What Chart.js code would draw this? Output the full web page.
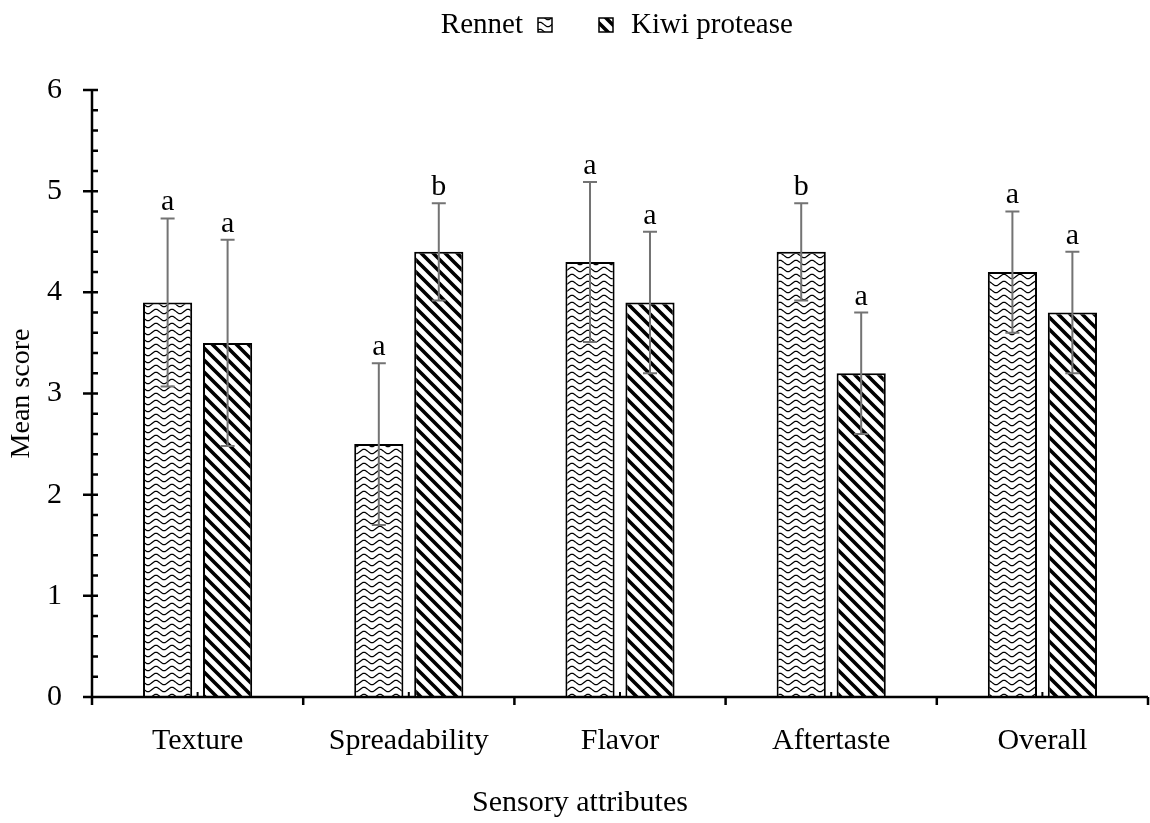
<!DOCTYPE html>
<html>
<head>
<meta charset="utf-8">
<script src="https://cdn.jsdelivr.net/npm/chart.js@4"></script>
<style>
  html, body { margin: 0; padding: 0; background: #fff; }
  #wrap { width: 1150px; height: 823px; position: relative; }
</style>
</head>
<body>
<div id="wrap"><canvas id="chart"></canvas></div>
<script>
const categories = ['Texture', 'Spreadability', 'Flavor', 'Aftertaste', 'Overall'];
const rennet = [3.9, 2.5, 4.3, 4.4, 4.2];
const kiwi = [3.5, 4.4, 3.9, 3.2, 3.8];
const rennetSd = [0.83, 0.8, 0.79, 0.48, 0.6];
const kiwiSd = [1.02, 0.48, 0.7, 0.6, 0.6];
const rennetLetters = ['a', 'a', 'a', 'b', 'a'];
const kiwiLetters = ['a', 'b', 'a', 'a', 'a'];
const seriesNames = ['Rennet', 'Kiwi protease'];
const xTitle = 'Sensory attributes';

const FONT = '"Liberation Serif", "Times New Roman", serif';
const FS = 30;

// fill patterns
function wavePattern() {
  const c = document.createElement('canvas');
  c.width = 16; c.height = 7;
  const g = c.getContext('2d');
  g.fillStyle = '#fff'; g.fillRect(0, 0, 16, 7);
  g.strokeStyle = '#000'; g.lineWidth = 1.3;
  g.beginPath();
  for (let x = 0; x <= 16; x++) {
    const y = 3.5 + 2.2 * Math.sin(x / 16 * Math.PI * 2);
    x === 0 ? g.moveTo(x, y) : g.lineTo(x, y);
  }
  g.stroke();
  return g.createPattern(c, 'repeat');
}
function stripePattern() {
  const c = document.createElement('canvas');
  c.width = 12; c.height = 12;
  const g = c.getContext('2d');
  g.fillStyle = '#fff'; g.fillRect(0, 0, 12, 12);
  g.strokeStyle = '#000'; g.lineWidth = 3.6;
  g.beginPath();
  g.moveTo(-3, -3); g.lineTo(15, 15);
  g.moveTo(-15, -3); g.lineTo(3, 15);
  g.moveTo(9, -3); g.lineTo(27, 15);
  g.stroke();
  return g.createPattern(c, 'repeat');
}
const patRennet = wavePattern();
const patKiwi = stripePattern();

// axes, error bars, letters, legend, x title
const decor = {
  id: 'decor',
  afterDatasetsDraw(chart) {
    const { ctx, scales: { x, y } } = chart;
    const left = x.left, right = x.right, bottom = y.getPixelForValue(0), top = y.getPixelForValue(6);
    ctx.save();
    ctx.strokeStyle = '#000'; ctx.lineWidth = 2.5; ctx.lineCap = 'butt';
    ctx.beginPath();
    ctx.moveTo(left, top - 1); ctx.lineTo(left, bottom + 1);
    ctx.moveTo(left - 9, bottom); ctx.lineTo(right, bottom);
    for (let v = 0; v <= 6; v++) {
      const py = y.getPixelForValue(v);
      ctx.moveTo(left - 9, py); ctx.lineTo(left + 6, py);
    }
    for (let i = 0; i < 30; i++) {
      if (i % 5 === 0) continue;
      const py = y.getPixelForValue(i * 0.2);
      ctx.moveTo(left, py); ctx.lineTo(left + 6, py);
    }
    const n = categories.length;
    const step = (right - left) / n;
    for (let i = 0; i <= n; i++) {
      const px = left + i * step;
      ctx.moveTo(px, bottom); ctx.lineTo(px, bottom + 8);
    }
    ctx.stroke();
    ctx.lineWidth = 2;
    ctx.beginPath();
    for (let i = 0; i < n; i++) {
      const px = x.getPixelForValue(i);
      ctx.moveTo(px, bottom); ctx.lineTo(px, bottom - 5);
    }
    ctx.stroke();

    // error bars
    const sds = [rennetSd, kiwiSd];
    const letters = [rennetLetters, kiwiLetters];
    ctx.strokeStyle = '#737373'; ctx.lineWidth = 2;
    ctx.fillStyle = '#000';
    ctx.font = FS + 'px ' + FONT;
    ctx.textAlign = 'center'; ctx.textBaseline = 'alphabetic';
    chart.data.datasets.forEach((ds, di) => {
      chart.getDatasetMeta(di).data.forEach((bar, i) => {
        const v = ds.data[i], sd = sds[di][i];
        const yt = y.getPixelForValue(v + sd), yb = y.getPixelForValue(v - sd);
        ctx.beginPath();
        ctx.moveTo(bar.x, yt); ctx.lineTo(bar.x, yb);
        ctx.moveTo(bar.x - 7, yt); ctx.lineTo(bar.x + 7, yt);
        ctx.moveTo(bar.x - 7, yb); ctx.lineTo(bar.x + 7, yb);
        ctx.stroke();
        ctx.fillText(letters[di][i], bar.x, yt - 8);
      });
    });

    // x title
    ctx.textBaseline = 'middle';
    ctx.fillText(xTitle, 580, 803);

    // legend
    const ly = 25;
    ctx.font = '29px ' + FONT;
    ctx.textAlign = 'right';
    ctx.fillText(seriesNames[0], 523, ly);
    ctx.textAlign = 'left';
    ctx.fillText(seriesNames[1], 631, ly);
    ctx.lineWidth = 1.5; ctx.strokeStyle = '#000';
    ctx.fillStyle = patRennet; ctx.fillRect(538, ly - 7, 14, 14); ctx.strokeRect(538, ly - 7, 14, 14);
    ctx.fillStyle = patKiwi; ctx.fillRect(599, ly - 7, 14, 14); ctx.strokeRect(599, ly - 7, 14, 14);
    ctx.restore();
  }
};

new Chart(document.getElementById('chart'), {
  type: 'bar',
  data: {
    labels: categories,
    datasets: [
      { label: seriesNames[0], data: rennet, backgroundColor: patRennet, borderColor: '#000', borderWidth: 2 },
      { label: seriesNames[1], data: kiwi, backgroundColor: patKiwi, borderColor: '#000', borderWidth: 2 },
    ],
  },
  options: {
    responsive: true, maintainAspectRatio: false, animation: false,
    devicePixelRatio: 1,
    categoryPercentage: 0.568, barPercentage: 0.82,
    layout: { padding: { top: 90, right: 2, bottom: 0, left: 0 } },
    plugins: { legend: { display: false }, tooltip: { enabled: false } },
    scales: {
      x: {
        grid: { display: false, drawTicks: false }, border: { display: false },
        ticks: { color: '#000', font: { family: FONT, size: FS }, padding: 26 },
        afterFit(s) { s.height = 126; },
      },
      y: {
        min: 0, max: 6,
        grid: { display: false, drawTicks: false }, border: { display: false },
        ticks: { stepSize: 1, color: '#000', font: { family: FONT, size: FS }, padding: 30 },
        title: { display: true, text: 'Mean score', color: '#000', font: { family: FONT, size: 28 }, padding: { top: 5, bottom: 0 } },
        afterFit(s) { s.width = 92; },
      },
    },
  },
  plugins: [decor],
});
</script>
</body>
</html>
